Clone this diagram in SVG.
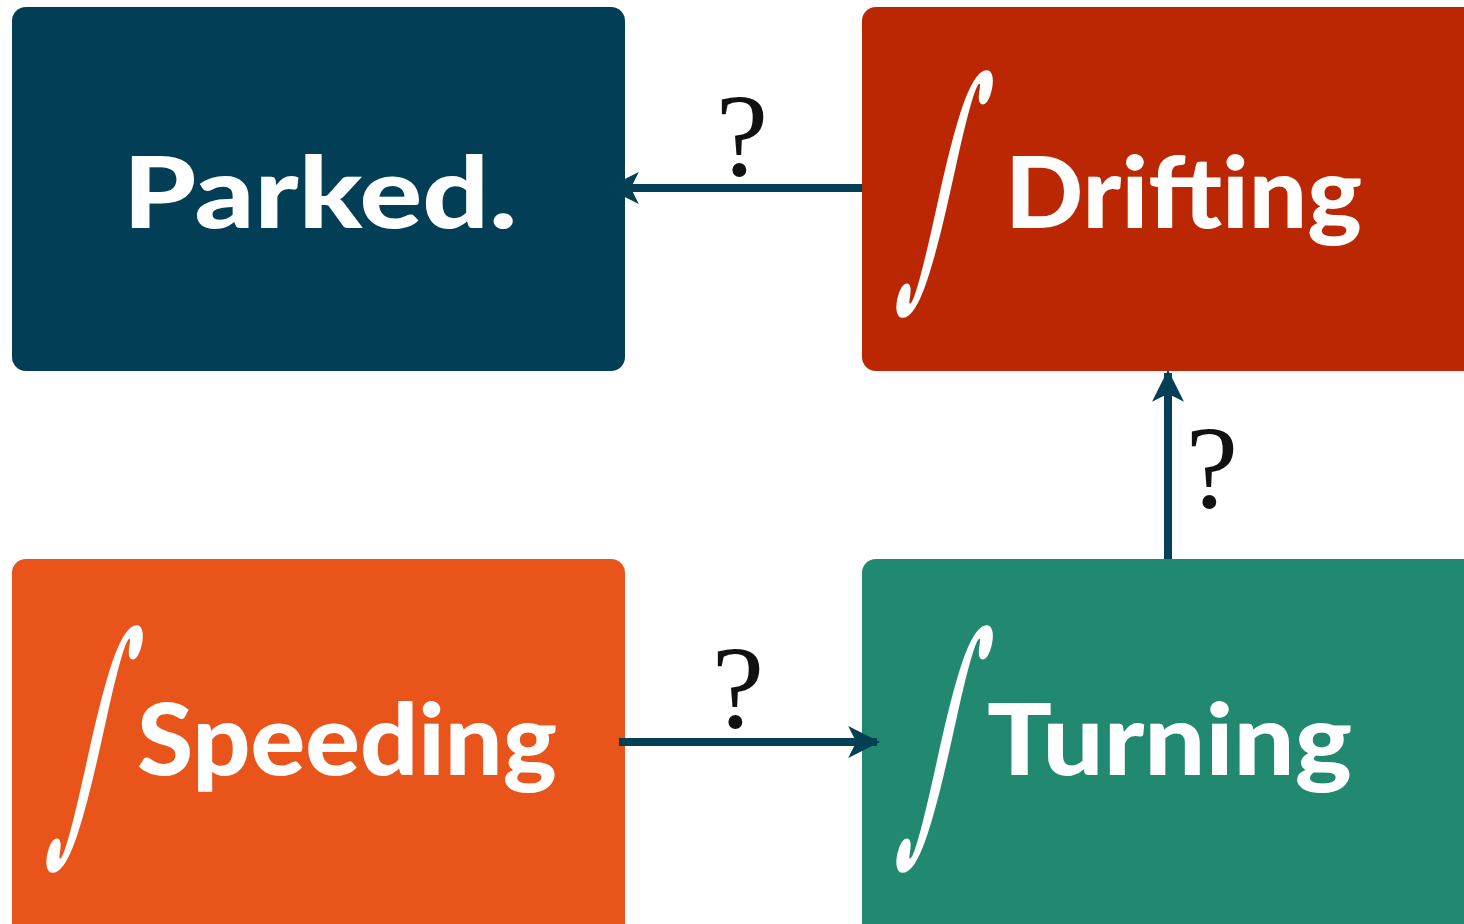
<svg xmlns="http://www.w3.org/2000/svg" width="1464" height="924" viewBox="0 0 1464 924">
<style>
.lbl{font-family:Lato,"Open Sans",sans-serif;font-weight:900;fill:#fff;font-size:100px}
.int{font-family:"DejaVu Serif","Liberation Serif",serif;fill:#fff;font-size:264px}
.q{font-family:"Liberation Serif","DejaVu Serif",serif;font-size:118px;fill:#111;text-anchor:middle}
.conn{stroke:#033f55;stroke-width:8;fill:none}
</style>
<defs>
<marker id="ah" viewBox="0 0 10 10" refX="9" refY="5" markerWidth="4" markerHeight="4" orient="auto" markerUnits="strokeWidth">
<path d="M10,5 L0,0 L2.5,5 L0,10 Z" fill="#033f55"/>
</marker>
</defs>
<rect width="1464" height="924" fill="#fff"/>
<g id="parked">
<rect x="12" y="7" width="613" height="364" rx="14" fill="#023f56"/>
<text class="lbl" x="123" y="228" textLength="394" lengthAdjust="spacingAndGlyphs">Parked.</text>
</g>
<g id="drifting">
<rect x="862" y="7" width="620" height="364" rx="14" fill="#ba2702"/>
<text class="int" x="0" y="0" transform="translate(901,270) skewX(-12) scale(0.4,1)">∫</text>
<text class="lbl" x="1005" y="228" textLength="357" lengthAdjust="spacingAndGlyphs">Drifting</text>
</g>
<g id="speeding">
<rect x="12" y="559" width="613" height="380" rx="14" fill="#e9541b"/>
<text class="int" x="0" y="0" transform="translate(51,825) skewX(-12) scale(0.4,1)">∫</text>
<text class="lbl" x="137" y="775" textLength="420" lengthAdjust="spacingAndGlyphs">Speeding</text>
</g>
<g id="turning">
<rect x="862" y="559" width="620" height="380" rx="14" fill="#218970"/>
<text class="int" x="0" y="0" transform="translate(901,825) skewX(-12) scale(0.4,1)">∫</text>
<text class="lbl" x="987" y="775" textLength="365" lengthAdjust="spacingAndGlyphs">Turning</text>
</g>
<g id="connectors">
<line class="conn" x1="862" y1="188" x2="610" y2="188" marker-end="url(#ah)"/>
<line class="conn" x1="1168" y1="559" x2="1168" y2="373" marker-end="url(#ah)"/>
<line class="conn" x1="619" y1="742" x2="877" y2="742" marker-end="url(#ah)"/>
<text class="q" x="742" y="175">?</text>
<text class="q" x="1212" y="507">?</text>
<text class="q" x="738" y="727">?</text>
</g>
</svg>
